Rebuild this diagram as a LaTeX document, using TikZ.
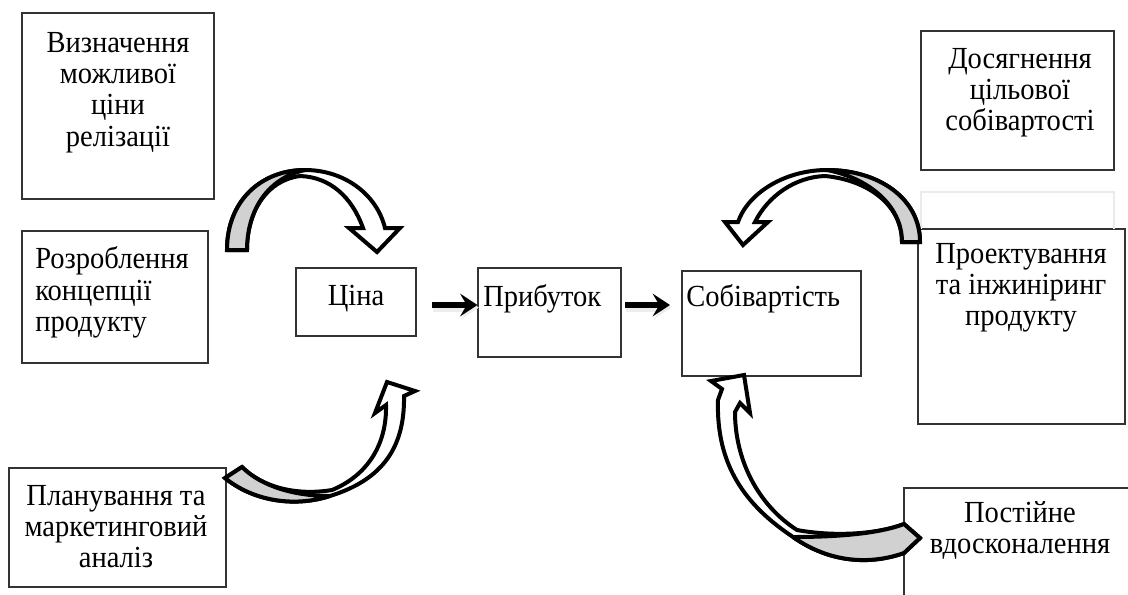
\documentclass[tikz,border=0pt]{standalone}
\usepackage{fontspec}
\setmainfont{Liberation Serif}[FakeStretch=0.93]
\usetikzlibrary{arrows.meta,fit}
\newcommand\lbsize{\fontsize{23pt}{23.6pt}\selectfont}
\begin{document}
\begin{tikzpicture}[x=0.75pt,y=-0.75pt,
  box/.style={draw=black!80, line width=0.8pt, inner sep=0pt},
  lbl/.style={font=\lbsize, inner sep=0pt, align=center},
  lbll/.style={font=\lbsize, inner sep=0pt, align=left},
  band/.style={draw=black, line width=3pt, line join=miter, miter limit=6, fill=white},
  shade/.style={draw=black, line width=3pt, line join=round, fill=black!18},
  flow/.style={line width=4pt, -{Stealth[length=13pt,width=17pt,inset=5pt]},
    preaction={draw=black!7, line width=7pt, transform canvas={shift={(1pt,-2pt)}}}},
  faint/.style={draw=black!8, line width=0.8pt}]
\clip (0,0) rectangle (1128,594);
% boxes
\node[box, fit={(22,13) (214,199)}] (b1) {};
\node[box, fit={(22,231) (208,363)}] (b2) {};
\node[box, fit={(9,468) (226,587)}] (b3) {};
\node[box, fit={(921,31) (1114,170)}] (b4) {};
\node[box, fit={(918,229) (1125,424)}] (b5) {};
\node[box, fit={(904,488) (1140,610)}] (b6) {};
\node[box, fit={(296,268) (416,336)}] (cena) {};
\node[box, fit={(478,268) (621,357)}] (prib) {};
\node[box, fit={(682,271) (861,376)}] (sob) {};
\draw[faint] (921,229) -- (921,192) -- (1114,192) -- (1114,229);
% texts
\node[lbl, anchor=north] (t1) at (118,31.7) {Визначення\\можливої\\ціни\\релізації};
\node[lbll, anchor=north west] (t2) at (35,246.7) {Розроблення\\концепції\\продукту};
\node[lbl, anchor=north] (t3) at (116,484.7) {Планування та\\маркетинговий\\аналіз};
\node[lbl, anchor=north] (t4) at (1020,47.7) {Досягнення\\цільової\\собівартості};
\node[lbl, anchor=north] (t5) at (1021,242.7) {Проектування\\та інжиніринг\\продукту};
\node[lbl, anchor=north] (t6) at (1020,501) {Постійне\\вдосконалення};
\node[lbl, anchor=base] (tc) at (356,305) {Ціна};
\node[lbll, anchor=base west] (tp) at (483,306) {Прибуток};
\node[lbll, anchor=base west] (ts) at (686,306) {Собівартість};
% straight arrows
\coordinate (a1s) at (432,305);
\coordinate (a2s) at (625,305);
\coordinate (a2e) at (670,305);
\draw[flow] (a1s) -- (prib.west |- a1s);
\draw[flow] (a2s) -- (a2e);
% curved arrow A (top-left)
\path[band] (227,250) .. controls (227,200) and (262,170) .. (305,170)
  .. controls (345,170) and (377,195) .. (385,228) -- (400,228) -- (377,252) -- (349,228) -- (363,228)
  .. controls (352,197) and (330,177) .. (300,176) .. controls (268,180) and (247,210) .. (247,250) -- cycle;
\path[shade] (227,250) .. controls (227,200) and (262,170) .. (305,170)
  .. controls (268,178) and (247,210) .. (247,250) -- cycle;
% curved arrow C (top-right)
\path[band] (920,242) .. controls (920,198) and (878,170) .. (827,170)
  .. controls (785,170) and (748,193) .. (738,222) -- (725,222) -- (743,245) -- (768,222) -- (755,222)
  .. controls (768,196) and (795,177) .. (825,176) .. controls (868,180) and (902,205) .. (902,242) -- cycle;
\path[shade] (920,242) .. controls (920,198) and (878,170) .. (827,170)
  .. controls (868,178) and (902,205) .. (902,242) -- cycle;
% curved arrow B (bottom-left)
\path[band] (225,478) .. controls (252,500) and (292,508) .. (330,496)
  .. controls (378,481) and (405,452) .. (404,396) -- (415,391) -- (387,382) -- (375,413) -- (386,405)
  .. controls (387,446) and (366,476) .. (332,490) .. controls (296,496) and (262,487) .. (242,467) -- cycle;
\path[shade] (225,478) .. controls (252,500) and (292,508) .. (330,496)
  .. controls (296,496) and (262,487) .. (242,467) -- cycle;
% curved arrow D (bottom-right)
\path[band] (904,553) .. controls (870,565) and (830,563) .. (793,537)
  .. controls (745,505) and (716,465) .. (718,400) -- (722,389) -- (711,381) -- (744,375) -- (750,413) -- (740,403) -- (735,412)
  .. controls (735,460) and (758,505) .. (797,530) .. controls (835,537) and (878,534) .. (904,524) -- (920,538) -- cycle;
\path[shade] (904,553) .. controls (870,565) and (830,563) .. (793,537)
  .. controls (835,537) and (878,534) .. (904,524) -- (920,538) -- cycle;
\end{tikzpicture}
\end{document}
